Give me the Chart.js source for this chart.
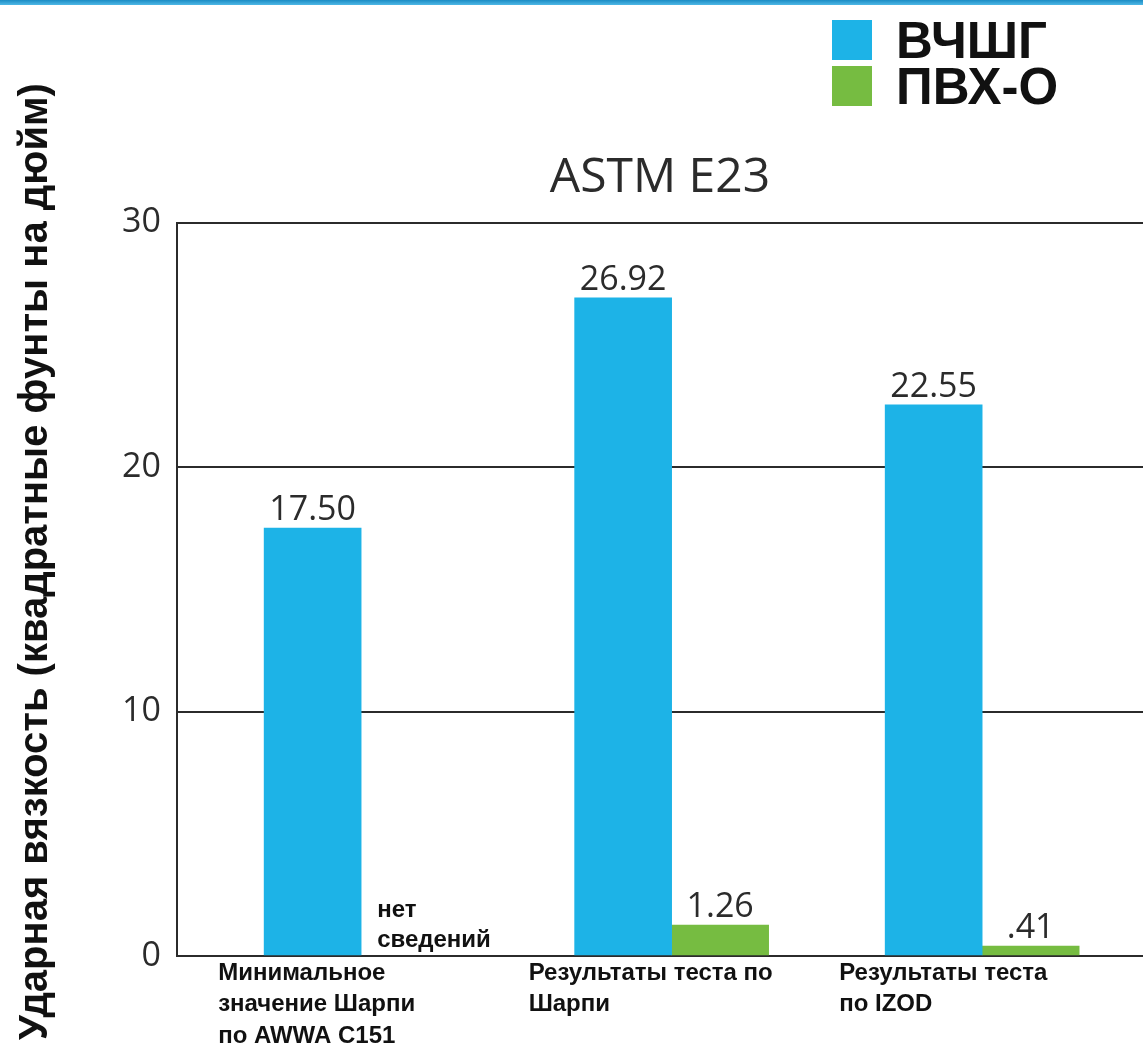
<!DOCTYPE html>
<html lang="ru">
<head>
<meta charset="utf-8">
<title>ASTM E23</title>
<script src="https://cdn.jsdelivr.net/npm/chart.js@4.4.1/dist/chart.umd.min.js"></script>
<style>
  html, body { margin: 0; padding: 0; background: #fff; overflow: hidden; }
  #wrap { position: relative; width: 1143px; height: 1050px; }
  #topStrip { position: absolute; top: 0; left: 0; width: 100%; height: 5px;
    background: linear-gradient(#1b8cc4, #4fb8e6); z-index: 2; }
</style>
</head>
<body>
<div id="wrap">
  <div id="topStrip"></div>
  <canvas id="impactChart"></canvas>
</div>
<script>
// Ударная вязкость: ВЧШГ vs ПВХ-О
const categories = [
  ['Минимальное', 'значение Шарпи', 'по AWWA C151'],
  ['Результаты теста по', 'Шарпи'],
  ['Результаты теста', 'по IZOD']
]
const seriesNames = ['ВЧШГ', 'ПВХ-О']
const ductileIron = [17.50, 26.92, 22.55]
const pvcO = [null, 1.26, 0.41]
const yTicks = [0, 10, 20, 30]
const noDataText = ['нет', 'сведений']
const yTitle = 'Ударная вязкость (квадратные фунты на дюйм)'

const BLUE = '#1db3e7'
const GREEN = '#76bc41'
const INK = '#2b2b2b'
const boldFont = 'Liberation Sans, Arial, sans-serif'
const lightFont = '"Open Sans", sans-serif'

// "0.41" -> ".41", "17.5" -> "17.50"
const fmt = (v) => v.toFixed(2).replace(/^0\./, '.')

const toPoints = (arr) => arr.map((v, i) => ({x: i, y: v}))

// value captions above bars, plus the "no data" note where a value is missing
const barLabels = {
  id: 'barLabels',
  afterDatasetsDraw(chart) {
    const ctx = chart.ctx
    ctx.save()
    chart.data.datasets.forEach((ds, di) => {
      const meta = chart.getDatasetMeta(di)
      meta.data.forEach((bar, i) => {
        const v = ds.data[i].y
        if (v === null) {
          ctx.font = 'bold 24px ' + boldFont
          ctx.fillStyle = '#111'
          ctx.textAlign = 'left'
          ctx.textBaseline = 'alphabetic'
          const left = bar.x - bar.width / 2 + 16
          const base = chart.scales.y.getPixelForValue(0)
          ctx.fillText(noDataText[0], left, base - 39)
          ctx.fillText(noDataText[1], left, base - 9)
        } else {
          ctx.font = '34px ' + lightFont
          ctx.fillStyle = INK
          ctx.textAlign = 'center'
          ctx.textBaseline = 'alphabetic'
          ctx.fillText(fmt(v), bar.x, bar.y - 8)
        }
      })
    })
    ctx.restore()
  }
}

// two-row legend in the top right corner
const stackedLegend = {
  id: 'stackedLegend',
  afterDraw(chart) {
    const ctx = chart.ctx
    ctx.save()
    ctx.font = 'bold 51px ' + boldFont
    ctx.textAlign = 'left'
    ctx.textBaseline = 'alphabetic'
    chart.data.datasets.forEach((ds, i) => {
      const top = 20 + i * 46
      ctx.fillStyle = ds.backgroundColor
      ctx.fillRect(832, top, 40, 40)
      ctx.fillStyle = '#111'
      ctx.fillText(ds.label, 896, top + 38)
    })
    ctx.restore()
  }
}

const context = document.getElementById('impactChart')

new Chart(context, {
  type: 'bar',
  data: {
    datasets: [
      {label: seriesNames[0], data: toPoints(ductileIron), backgroundColor: BLUE},
      {label: seriesNames[1], data: toPoints(pvcO), backgroundColor: GREEN}
    ]
  },
  options: {
    responsive: true,
    maintainAspectRatio: false,
    animation: false,
    barThickness: 97,
    layout: {padding: {top: 140, left: 0, right: 0, bottom: 0}},
    plugins: {
      legend: {display: false},
      tooltip: {enabled: false},
      title: {
        display: true,
        text: 'ASTM E23',
        fullSize: false,
        color: INK,
        font: {family: lightFont, size: 48, weight: 'normal'},
        padding: {top: 10, bottom: 15}
      }
    },
    scales: {
      x: {
        type: 'linear',
        min: -0.593,
        max: 2.518,
        offset: false,
        grid: {display: false},
        border: {display: true, color: INK, width: 2},
        afterBuildTicks: (scale) => {
          scale.ticks = categories.map((c, i) => ({value: i}))
        },
        afterFit: (scale) => {
          scale.paddingLeft = 0
          scale.paddingRight = 0
          scale.height = 94
        },
        ticks: {
          align: 'start',
          labelOffset: -143,
          padding: -6,
          maxRotation: 0,
          autoSkip: false,
          color: '#111',
          font: {family: boldFont, size: 24, weight: 'bold', lineHeight: 1.3},
          callback: (value, index) => categories[index]
        }
      },
      y: {
        min: yTicks[0],
        max: yTicks[yTicks.length - 1],
        afterBuildTicks: (scale) => {
          scale.ticks = yTicks.map((t) => ({value: t}))
        },
        afterFit: (scale) => { scale.width = 177 },
        grid: {color: INK, lineWidth: 2, drawTicks: false},
        border: {display: true, color: INK, width: 2},
        ticks: {
          padding: 16,
          color: INK,
          font: {family: lightFont, size: 34}
        },
        title: {
          display: true,
          // leading no-break spaces nudge the centred title up a little
          text: '\u00a0'.repeat(5) + yTitle,
          color: '#111',
          font: {family: boldFont, size: 40, weight: 'bold'},
          padding: {top: 12, bottom: 0}
        }
      }
    }
  },
  plugins: [barLabels, stackedLegend]
})
</script>
</body>
</html>
